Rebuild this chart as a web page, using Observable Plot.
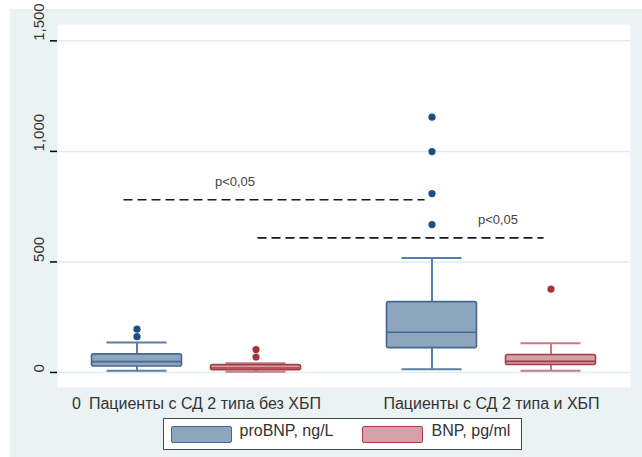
<!DOCTYPE html>
<html><head><meta charset="utf-8">
<script src="https://cdn.jsdelivr.net/npm/d3@7"></script>
<script src="https://cdn.jsdelivr.net/npm/@observablehq/plot@0.6"></script>
<style>
body{margin:0;background:#fff;font-family:"Liberation Sans",Arial,sans-serif;}
#bg{position:absolute;left:10px;top:9px;width:632px;height:448px;background:#eaf2f4;}
#chart{position:absolute;left:0;top:0;}
#legend{position:absolute;left:163px;top:418px;width:359px;height:32px;box-sizing:border-box;border:1.5px solid #4a4a4a;background:#fff;}
.sw{position:absolute;top:6.5px;width:61px;height:17px;box-sizing:border-box;border:1.5px solid;border-radius:2px}
.lt{position:absolute;top:4.3px;font-size:16px;line-height:16px;color:#333;white-space:nowrap}
</style></head><body>
<div id="bg"></div><div id="chart"></div><div id="legend"></div>
<script>
// ---- data ----
const groups = ["Пациенты с СД 2 типа без ХБП", "Пациенты с СД 2 типа и ХБП"];
const xTickLabels = ["0\u2002Пациенты с СД 2 типа без ХБП", "Пациенты с СД 2 типа и ХБП"];
const series = ["proBNP, ng/L", "BNP, pg/ml"];
const proLow  = [8, 14];
const proQ1   = [27, 110];
const proMed  = [49, 182];
const proQ3   = [82, 318];
const proHigh = [135, 518];
const proOutliers = [[162, 196], [669, 809, 999, 1155]];
const bnpLow  = [3, 8];
const bnpQ1   = [10, 34];
const bnpMed  = [20, 50];
const bnpQ3   = [33, 79];
const bnpHigh = [42, 132];
const bnpOutliers = [[70, 104], [377]];
const yTicks = [0, 500, 1000, 1500];
const compSeries = ["proBNP, ng/L", "BNP, pg/ml"];
const compValues = [781, 609];
const compLabels = ["p<0,05", "p<0,05"];

// ---- tables ----
const statArrays = [
  [proLow, proQ1, proMed, proQ3, proHigh, proOutliers],
  [bnpLow, bnpQ1, bnpMed, bnpQ3, bnpHigh, bnpOutliers]
];
const boxes = [], outliers = [];
series.forEach((s, si) => {
  const [lo, q1, md, q3, hi, out] = statArrays[si];
  groups.forEach((g, gi) => {
    boxes.push({series: s, group: g, low: lo[gi], q1: q1[gi], med: md[gi], q3: q3[gi], high: hi[gi]});
    out[gi].forEach(v => outliers.push({series: s, group: g, value: v}));
  });
});
const comparisons = compSeries.map((s, i) => ({series: s, y: compValues[i], label: compLabels[i]}));

// ---- styles ----
const style = {
  [series[0]]: {fill: "#8da5be", stroke: "#44698f", whisker: "#5a7fa6", dot: "#1f4f82", dx: -59.5},
  [series[1]]: {fill: "#d3a1a6", stroke: "#a63c48", whisker: "#c47c85", dot: "#a8323c", dx: 59.5}
};
const compLayout = {
  [series[0]]: {insetLeft: -72.5, insetRight: 66.5, labelGroup: 0, labelDx: 38.5},
  [series[1]]: {insetLeft: 61.5, insetRight: -52.5, labelGroup: 1, labelDx: 6.5}
};

const marks = [
  Plot.frame({fill: "white", stroke: null}),
  Plot.gridY(yTicks, {stroke: "#e2ebee", strokeOpacity: 1, strokeWidth: 1.5}),
];
for (const s of series) {
  const st = style[s];
  const rows = boxes.filter(d => d.series === s);
  marks.push(
    Plot.ruleX(rows, {x: "group", y1: "low", y2: "q1", stroke: st.whisker, strokeWidth: 2, dx: st.dx}),
    Plot.ruleX(rows, {x: "group", y1: "q3", y2: "high", stroke: st.whisker, strokeWidth: 2, dx: st.dx}),
    Plot.ruleY(rows, {x1: "group", x2: "group", y: "low", insetLeft: -30, insetRight: -30, stroke: st.whisker, strokeWidth: 2, dx: st.dx}),
    Plot.ruleY(rows, {x1: "group", x2: "group", y: "high", insetLeft: -30, insetRight: -30, stroke: st.whisker, strokeWidth: 2, dx: st.dx}),
    Plot.rect(rows, {x1: "group", x2: "group", y1: "q1", y2: "q3", insetLeft: -45, insetRight: -45, fill: st.fill, stroke: st.stroke, strokeWidth: 1.6, rx: 2, dx: st.dx}),
    Plot.ruleY(rows, {x1: "group", x2: "group", y: "med", insetLeft: -45, insetRight: -45, stroke: st.stroke, strokeWidth: 1.6, dx: st.dx}),
    Plot.dot(outliers.filter(d => d.series === s), {x: "group", y: "value", r: 3.6, fill: st.dot, stroke: null, dx: st.dx})
  );
}
for (const c of comparisons) {
  const L = compLayout[c.series];
  marks.push(
    Plot.ruleY([c], {x1: () => groups[0], x2: () => groups[1], y: "y", insetLeft: L.insetLeft, insetRight: L.insetRight,
      stroke: "#1a1a1a", strokeWidth: 1.6, strokeDasharray: "9,5"}),
    Plot.text([c], {x: () => groups[L.labelGroup], y: "y", text: "label", dx: L.labelDx, dy: -18, fontSize: 13, fill: "#444"})
  );
}
marks.push(
  Plot.axisY(yTicks, {tickSize: 7, tickFormat: () => "", stroke: "#000", strokeWidth: 1.5, line: true, label: null}),
  Plot.text(yTicks, {y: d => d, frameAnchor: "left", text: d => d3.format(",")(d), rotate: -90, dx: -18, fontSize: 15, fill: "#333"}),
  Plot.axisX({tickSize: 0, tickPadding: 10, tickFormat: d => xTickLabels[groups.indexOf(d)], fontSize: 16, fill: "#333", stroke: "#000", strokeWidth: 1.5, line: true, label: null})
);

const plot = Plot.plot({
  width: 642, height: 418,
  marginLeft: 57, marginRight: 12, marginTop: 24, marginBottom: 31,
  style: {background: "transparent", fontFamily: "Liberation Sans, Arial, sans-serif", color: "#333"},
  x: {type: "point", domain: groups, padding: 0.468},
  y: {domain: [-68, 1574]},
  marks
});
document.getElementById("chart").appendChild(plot);

// ---- legend ----
const leg = document.getElementById("legend");
const legPos = [{sw: 6.5, tx: 75.5}, {sw: 197.5, tx: 267.5}];
series.forEach((s, i) => {
  const sw = document.createElement("div");
  sw.className = "sw";
  sw.style.left = legPos[i].sw + "px";
  sw.style.background = style[s].fill;
  sw.style.borderColor = style[s].stroke;
  leg.appendChild(sw);
  const t = document.createElement("div");
  t.className = "lt";
  t.style.left = legPos[i].tx + "px";
  t.textContent = s;
  leg.appendChild(t);
});
</script>
</body></html>
